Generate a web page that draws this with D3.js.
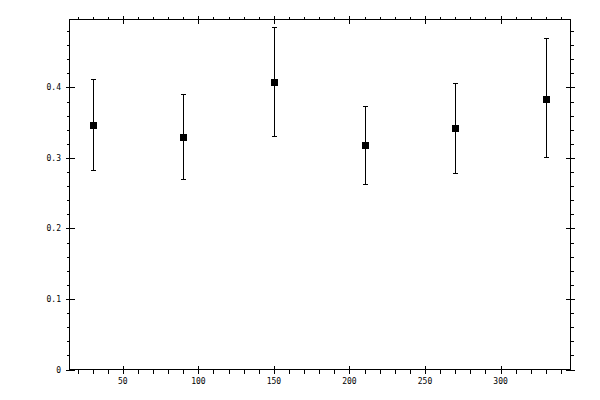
<!DOCTYPE html>
<meta charset="utf-8">
<body style="margin:0;background:#fff">
<script src="https://d3js.org/d3.v7.min.js"></script>
<div id="chart"></div>
<script>

// data
var xVals  = [30, 90, 150, 210, 270, 330];
var yVals  = [0.347, 0.329, 0.408, 0.318, 0.342, 0.384];
var yUpper = [0.411, 0.390, 0.485, 0.373, 0.406, 0.469];
var yLower = [0.282, 0.270, 0.331, 0.263, 0.278, 0.300];

var xMajor = [50, 100, 150, 200, 250, 300];
var yMajor = [0, 0.1, 0.2, 0.3, 0.4];

var width = 600, height = 400;
var plotLeft = 69.5, plotRight = 570.5, plotTop = 19.5, plotBottom = 369.5;

var svg = d3.select("#chart")
  .append("svg")
    .attr("width", width)
    .attr("height", height)
    .style("display", "block")
    .attr("shape-rendering", "crispEdges");

var x = d3.scaleLinear().domain([14.7, 346.3]).range([plotLeft, plotRight]);
var y = d3.scaleLinear().domain([0, 0.4963]).range([plotBottom, plotTop]);

var xMinor = d3.range(20, 346, 10).filter(function(d) { return d % 50 !== 0 });
var yMinor = d3.range(1, 25).map(function(i) { return i * 0.02 }).filter(function(d, i) { return (i + 1) % 5 !== 0 });

// helper: draw an axis with no labels and no domain line
function ticksOnly(gen, tx, ty) {
  var g = svg.append("g")
    .attr("transform", "translate(" + tx + "," + ty + ")")
    .call(gen.tickFormat(""));
  g.select(".domain").remove();
  g.selectAll("line").attr("stroke", "#000");
  return g;
}

// bottom
ticksOnly(d3.axisBottom(x).tickValues(xMajor).tickSize(4), 0, plotBottom);
ticksOnly(d3.axisBottom(x).tickValues(xMajor).tickSize(-4), 0, plotBottom);
ticksOnly(d3.axisBottom(x).tickValues(xMinor).tickSize(4), 0, plotBottom);
// top
ticksOnly(d3.axisTop(x).tickValues(xMajor).tickSize(4), 0, plotTop);
ticksOnly(d3.axisTop(x).tickValues(xMajor).tickSize(-4), 0, plotTop);
ticksOnly(d3.axisTop(x).tickValues(xMinor).tickSize(3), 0, plotTop);
// left
ticksOnly(d3.axisLeft(y).tickValues(yMajor).tickSize(4), plotLeft, 0);
ticksOnly(d3.axisLeft(y).tickValues(yMajor).tickSize(-5), plotLeft, 0);
ticksOnly(d3.axisLeft(y).tickValues(yMinor).tickSize(3), plotLeft, 0);
// right
ticksOnly(d3.axisRight(y).tickValues(yMajor).tickSize(4), plotRight, 0);
ticksOnly(d3.axisRight(y).tickValues(yMajor).tickSize(-5), plotRight, 0);
ticksOnly(d3.axisRight(y).tickValues(yMinor).tickSize(3), plotRight, 0);

// frame
svg.append("rect")
  .attr("x", plotLeft).attr("y", plotTop)
  .attr("width", plotRight - plotLeft).attr("height", plotBottom - plotTop)
  .attr("fill", "none").attr("stroke", "#000");

// tick labels
svg.append("g").selectAll("text")
  .data(xMajor)
  .join("text")
    .attr("x", function(d) { return x(d) })
    .attr("y", 384)
    .attr("text-anchor", "middle")
    .style("font-family", "DejaVu Sans Mono")
    .style("font-size", "8px")
    .text(function(d) { return d });

svg.append("g").selectAll("text")
  .data(yMajor)
  .join("text")
    .attr("x", 61)
    .attr("y", function(d) { return y(d) + 3 })
    .attr("text-anchor", "end")
    .style("font-family", "DejaVu Sans Mono")
    .style("font-size", "8px")
    .text(function(d) { return d === 0 ? "0" : d3.format(".1f")(d) });

// error bars
var pts = xVals.map(function(d, i) {
  return {x: d, y: yVals[i], hi: yUpper[i], lo: yLower[i]};
});

var bars = svg.append("g").attr("stroke", "#000");
bars.selectAll(".stem")
  .data(pts)
  .join("line")
    .attr("class", "stem")
    .attr("x1", function(d) { return Math.round(x(d.x)) + 0.5 })
    .attr("x2", function(d) { return Math.round(x(d.x)) + 0.5 })
    .attr("y1", function(d) { return y(d.hi) })
    .attr("y2", function(d) { return y(d.lo) });
bars.selectAll(".capHi")
  .data(pts)
  .join("line")
    .attr("class", "capHi")
    .attr("x1", function(d) { return Math.round(x(d.x)) - 2 })
    .attr("x2", function(d) { return Math.round(x(d.x)) + 3 })
    .attr("y1", function(d) { return y(d.hi) })
    .attr("y2", function(d) { return y(d.hi) });
bars.selectAll(".capLo")
  .data(pts)
  .join("line")
    .attr("class", "capLo")
    .attr("x1", function(d) { return Math.round(x(d.x)) - 2 })
    .attr("x2", function(d) { return Math.round(x(d.x)) + 3 })
    .attr("y1", function(d) { return y(d.lo) })
    .attr("y2", function(d) { return y(d.lo) });

// square markers
svg.append("g").selectAll("rect")
  .data(pts)
  .join("rect")
    .attr("x", function(d) { return Math.round(x(d.x)) - 3 })
    .attr("y", function(d) { return Math.round(y(d.y)) - 3 })
    .attr("width", 7)
    .attr("height", 7)
    .attr("fill", "#000");

</script>
</body>
